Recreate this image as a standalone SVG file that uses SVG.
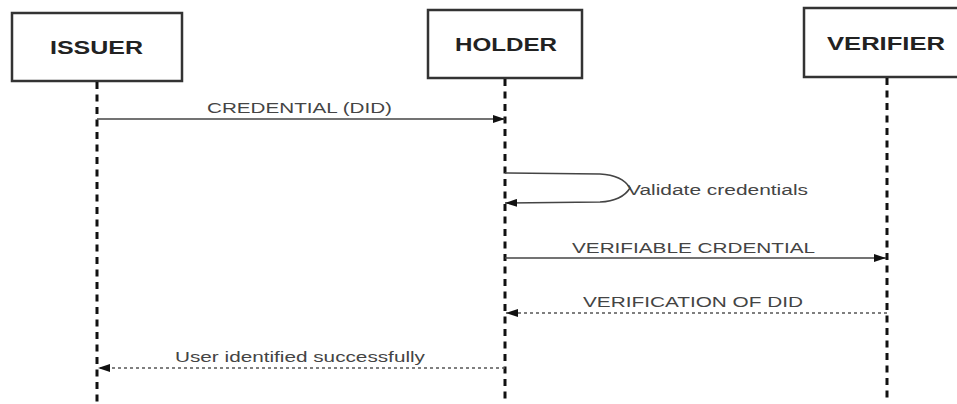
<svg xmlns="http://www.w3.org/2000/svg" width="957" height="404" viewBox="0 0 957 404">
<defs>
<style>
.box{fill:#fff;stroke:#333;stroke-width:2.5}
.title{font-family:"Liberation Sans",Arial,sans-serif;font-weight:bold;font-size:18px;fill:#222}
.life{stroke:#111;stroke-width:3;stroke-dasharray:7 5.5;fill:none}
.msg{stroke:#444;stroke-width:1.5;fill:none}
.ret{stroke:#555;stroke-width:1.5;stroke-dasharray:3 3;fill:none}
.lbl{font-family:"Liberation Sans",Arial,sans-serif;font-size:14px;fill:#444}
</style>
<marker id="ah" viewBox="0 0 12 8" refX="12" refY="4" markerWidth="12" markerHeight="8" markerUnits="userSpaceOnUse" orient="auto">
<path d="M0,0 L12,4 L0,8 Z" fill="#111"/>
</marker>
</defs>
<rect width="957" height="404" fill="#fff"/>
<g id="issuer">
<rect class="box" x="12" y="13" width="170" height="68"/>
<text class="title" x="50" y="54" textLength="93" lengthAdjust="spacingAndGlyphs">ISSUER</text>
</g>
<g id="holder">
<rect class="box" x="428" y="10" width="154" height="68"/>
<text class="title" x="455" y="51" textLength="102" lengthAdjust="spacingAndGlyphs">HOLDER</text>
</g>
<g id="verifier">
<rect class="box" x="804" y="8" width="160" height="69"/>
<text class="title" x="827" y="50" textLength="118" lengthAdjust="spacingAndGlyphs">VERIFIER</text>
</g>
<g id="lifelines">
<line class="life" x1="97" y1="82" x2="97" y2="402"/>
<line class="life" x1="505" y1="79" x2="505" y2="402"/>
<line class="life" x1="887" y1="78" x2="887" y2="402"/>
</g>
<g id="connectors">
<line class="msg" x1="97" y1="119" x2="505" y2="119" marker-end="url(#ah)"/>
<path class="msg" d="M505,173 L600,174 Q622,175 630,188 Q622,201 600,202 L505,203" marker-end="url(#ah)"/>
<line class="msg" x1="505" y1="258" x2="886" y2="258" marker-end="url(#ah)"/>
<line class="ret" x1="887" y1="313" x2="506" y2="313" marker-end="url(#ah)"/>
<line class="ret" x1="505" y1="368" x2="98" y2="368" marker-end="url(#ah)"/>
</g>
<g id="labels">
<text class="lbl" x="207" y="113" textLength="185" lengthAdjust="spacingAndGlyphs">CREDENTIAL (DID)</text>
<text class="lbl" x="627" y="195" textLength="181" lengthAdjust="spacingAndGlyphs">Validate credentials</text>
<text class="lbl" x="572" y="253" textLength="243" lengthAdjust="spacingAndGlyphs">VERIFIABLE CRDENTIAL</text>
<text class="lbl" x="583" y="307" textLength="220" lengthAdjust="spacingAndGlyphs">VERIFICATION OF DID</text>
<text class="lbl" x="175" y="362" textLength="250" lengthAdjust="spacingAndGlyphs">User identified successfully</text>
</g>
</svg>
